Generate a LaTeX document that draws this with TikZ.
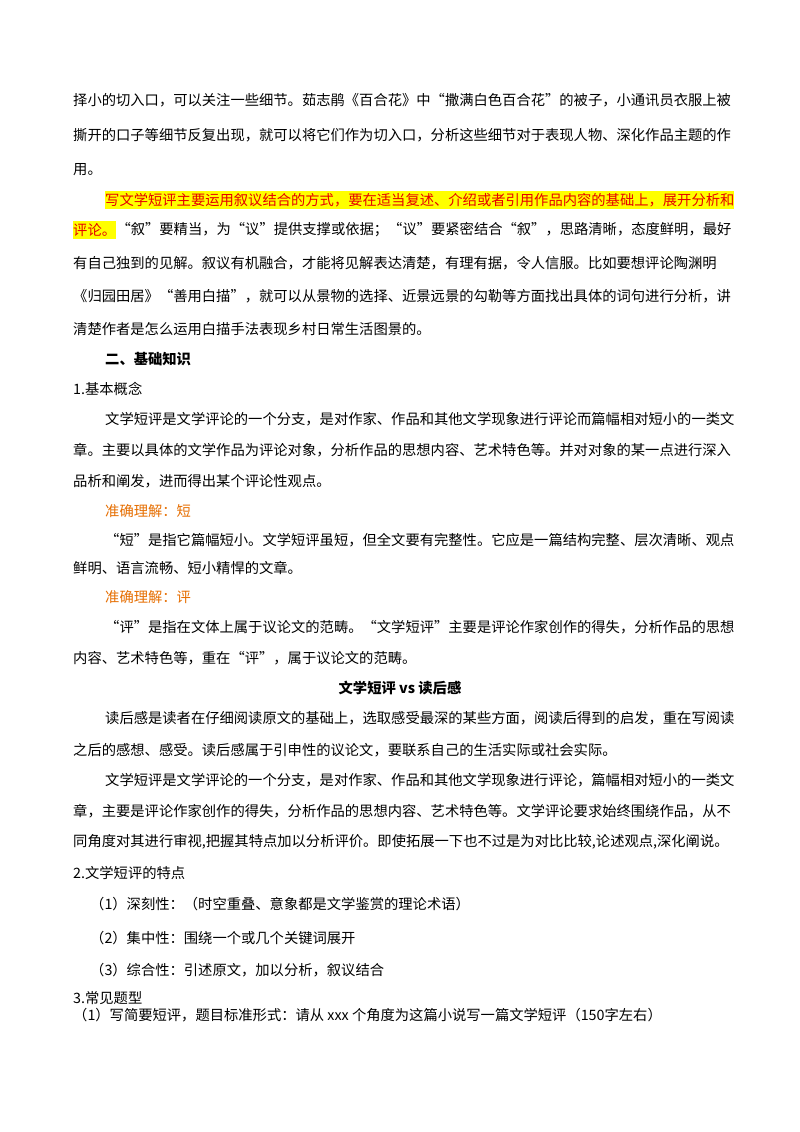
\documentclass[tikz,border=0pt]{standalone}
\usepackage{fontspec}
\setmainfont{Noto Sans CJK SC}
\definecolor{hilite}{RGB}{255,255,0}
\definecolor{hitext}{RGB}{230,0,0}
\definecolor{notecol}{RGB}{230,110,0}
\tikzset{
  txt/.style={anchor=west, inner sep=0pt, font=\fontsize{14.3}{17}\selectfont},
  head/.style={txt, font=\fontsize{14.3}{17}\selectfont\bfseries},
  hibox/.style={txt, text=hitext, fill=hilite, inner ysep=2pt},
  note/.style={txt, text=notecol}
}
\begin{document}
\begin{tikzpicture}[x=1pt,y=1pt]
  \useasboundingbox[fill=white] (0,0) rectangle (800,-1132);
  % first paragraph
  \node [txt]  (l1)  at (73,-100) {择小的切入口，可以关注一些细节。茹志鹃《百合花》中“撒满白色百合花”的被子，小通讯员衣服上被};
  \node [txt]  (l2)  at (73,-135) {撕开的口子等细节反复出现，就可以将它们作为切入口，分析这些细节对于表现人物、深化作品主题的作};
  \node [txt]  (l3)  at (73,-170) {用。};
  % highlighted paragraph
  \node [hibox] (l4)  at (105,-200) {写文学短评主要运用叙议结合的方式，要在适当复述、介绍或者引用作品内容的基础上，展开分析和};
  \node [hibox] (l5a) at (73,-230) {评论。};
  \node [txt]  (l5)  at (l5a.east) {“叙”要精当，为“议”提供支撑或依据；“议”要紧密结合“叙”，思路清晰，态度鲜明，最好};
  \node [txt]  (l6)  at (73,-263) {有自己独到的见解。叙议有机融合，才能将见解表达清楚，有理有据，令人信服。比如要想评论陶渊明};
  \node [txt]  (l7)  at (73,-296) {《归园田居》“善用白描”，就可以从景物的选择、近景远景的勾勒等方面找出具体的词句进行分析，讲};
  \node [txt]  (l8)  at (73,-329) {清楚作者是怎么运用白描手法表现乡村日常生活图景的。};
  % basics
  \node [head] (h2)  at (105,-359) {二、基础知识};
  \node [txt]  (s1)  at (73,-389) {1.基本概念};
  \node [txt]  (l11) at (105,-419) {文学短评是文学评论的一个分支，是对作家、作品和其他文学现象进行评论而篇幅相对短小的一类文};
  \node [txt]  (l12) at (73,-450) {章。主要以具体的文学作品为评论对象，分析作品的思想内容、艺术特色等。并对对象的某一点进行深入};
  \node [txt]  (l13) at (73,-481) {品析和阐发，进而得出某个评论性观点。};
  \node [note] (n1)  at (105,-511) {准确理解：短};
  \node [txt]  (l15) at (105,-540) {“短”是指它篇幅短小。文学短评虽短，但全文要有完整性。它应是一篇结构完整、层次清晰、观点};
  \node [txt]  (l16) at (73,-568) {鲜明、语言流畅、短小精悍的文章。};
  \node [note] (n2)  at (105,-597) {准确理解：评};
  \node [txt]  (l18) at (105,-627) {“评”是指在文体上属于议论文的范畴。“文学短评”主要是评论作家创作的得失，分析作品的思想};
  \node [txt]  (l19) at (73,-658) {内容、艺术特色等，重在“评”，属于议论文的范畴。};
  % comparison
  \node [head, anchor=center] (h3) at (400,-688) {文学短评 vs 读后感};
  \node [txt]  (l21) at (105,-718) {读后感是读者在仔细阅读原文的基础上，选取感受最深的某些方面，阅读后得到的启发，重在写阅读};
  \node [txt]  (l22) at (73,-750) {之后的感想、感受。读后感属于引申性的议论文，要联系自己的生活实际或社会实际。};
  \node [txt]  (l23) at (105,-780) {文学短评是文学评论的一个分支，是对作家、作品和其他文学现象进行评论，篇幅相对短小的一类文};
  \node [txt]  (l24) at (73,-811) {章，主要是评论作家创作的得失，分析作品的思想内容、艺术特色等。文学评论要求始终围绕作品，从不};
  \node [txt]  (l25) at (73,-842) {同角度对其进行审视,把握其特点加以分析评价。即使拓展一下也不过是为对比比较,论述观点,深化阐说。};
  % features
  \node [txt]  (s2)  at (73,-873) {2.文学短评的特点};
  \node [txt]  (f1)  at (90,-904) {（1）深刻性：（时空重叠、意象都是文学鉴赏的理论术语）};
  \node [txt]  (f2)  at (90,-938) {（2）集中性：围绕一个或几个关键词展开};
  \node [txt]  (f3)  at (90,-970) {（3）综合性：引述原文，加以分析，叙议结合};
  \node [txt]  (s3)  at (73,-998) {3.常见题型};
  \node [txt]  (q1)  at (73,-1015) {（1）写简要短评，题目标准形式：请从 xxx 个角度为这篇小说写一篇文学短评（150字左右）};
\end{tikzpicture}
\end{document}
